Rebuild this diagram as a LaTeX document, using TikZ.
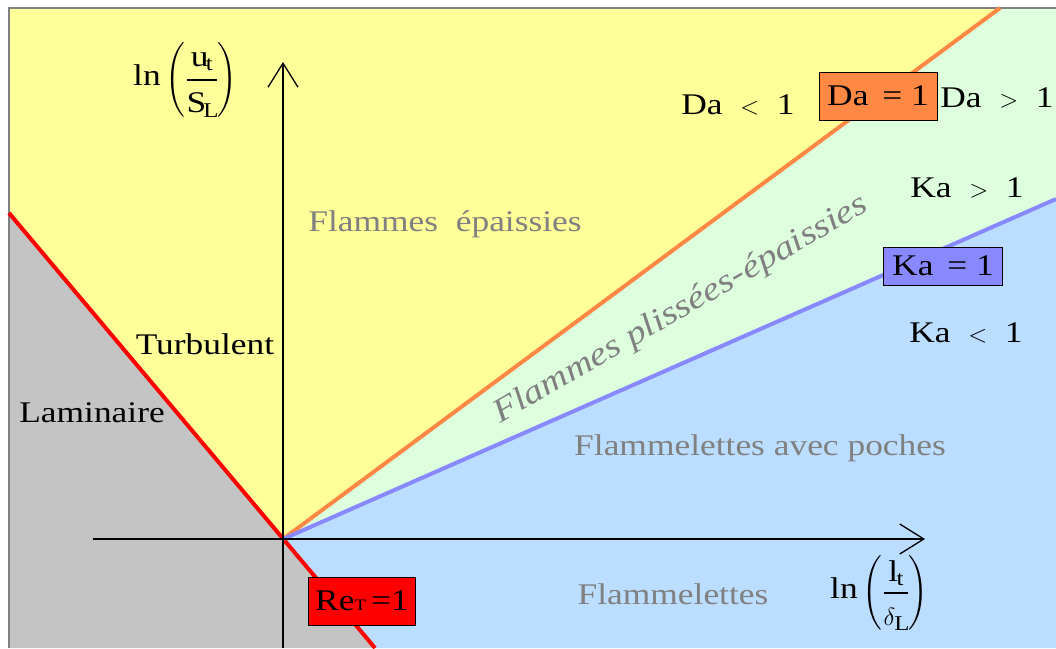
\documentclass[tikz,border=0pt]{standalone}
\usepackage{amsmath}
\usepackage{fontspec}
\setmainfont[FakeStretch=1.18]{Liberation Serif}
\usetikzlibrary{arrows.meta}

\definecolor{jaune}{RGB}{255,255,153}
\definecolor{gris}{RGB}{196,196,196}
\definecolor{vertpale}{RGB}{221,255,221}
\definecolor{bleupale}{RGB}{187,221,255}
\definecolor{daorange}{RGB}{255,136,68}
\definecolor{kableu}{RGB}{136,136,255}
\definecolor{texgris}{RGB}{128,128,128}

\begin{document}
\begin{tikzpicture}[x=1pt, y=-1pt,
    lbl/.style={font=\fontsize{30}{32}\selectfont, inner sep=0pt},
    zone/.style={lbl, text=texgris},
    boxlbl/.style={draw, line width=0.8pt, lbl, align=center},
    axis/.style={-{Straight Barb[length=24pt, width=30pt]}, line width=1.3pt},
    regime/.style={line width=4pt}
]
    \useasboundingbox (0,0) rectangle (1056,648);
    % points of the diagram
    \coordinate (O) at (283,539);
    \coordinate (retop) at (9,213);
    \coordinate (rebot) at (375,648);
    \coordinate (datop) at (1000,8);
    \coordinate (katop) at (1056,199);
    % zones
    \fill[gris] (retop) -- (O) -- (rebot) -- (9,648) -- cycle;
    \fill[jaune] (9,8) -- (datop) -- (O) -- (retop) -- cycle;
    \fill[vertpale] (datop) -- (1056,8) -- (katop) -- (O) -- cycle;
    \fill[bleupale] (O) -- (katop) -- (1056,648) -- (rebot) -- cycle;
    \draw[texgris, line width=2pt] (9,648) -- (9,8) -- (1056,8);
    % limits
    \draw[regime, red] (retop) -- (rebot);
    \draw[regime, daorange] (O) -- (datop);
    \draw[regime, kableu] (O) -- (katop);
    % axes
    \coordinate (ybot) at (283,648);
    \coordinate (ytip) at (283,62);
    \coordinate (xbeg) at (93,539);
    \coordinate (xtip) at (925,539);
    \draw[axis] (ybot) -- (ytip);
    \draw[axis] (xbeg) -- (xtip);
    \node[lbl, anchor=west] (ylab) at (133,80)
        {ln\,$\Bigg(\genfrac{}{}{2pt}{0}{\mathrm{u}_{\mathrm{t}}\rule[-6pt]{0pt}{6pt}}{\rule{0pt}{26pt}\mathrm{S}_{\mathrm{L}}}\Bigg)$};
    \node[lbl, anchor=west] (xlab) at (830,593)
        {ln\,$\Bigg(\genfrac{}{}{2pt}{0}{\mathrm{l}_{\mathrm{t}}\rule[-4pt]{0pt}{4pt}}{\rule{0pt}{26pt}\delta_{\mathrm{L}}}\Bigg)$};
    % boxed limits
    \node[boxlbl, fill=daorange, minimum width=118pt, minimum height=48pt] (da) at (878,96) {Da \,= 1};
    \node[boxlbl, fill=kableu, minimum width=119pt, minimum height=38pt] (ka) at (943,266) {Ka \,= 1};
    \node[boxlbl, fill=red, minimum width=107pt, minimum height=48pt] (re) at (362,601)
        {Re{\fontsize{16}{16}\selectfont T}\,=1};
    % labels
    \node[lbl] (dainf) at (738,105) {Da \ $<$ \ 1};
    \node[lbl] (dasup) at (997,98) {Da \ $>$ \ 1};
    \node[lbl] (kasup) at (967,188) {Ka \ $>$ \ 1};
    \node[lbl] (kainf) at (966,333) {Ka \ $<$ \ 1};
    \node[lbl] (turb) at (205,344) {Turbulent};
    \node[lbl] (lam) at (92,413) {Laminaire};
    \node[zone] (epais) at (445,224) {Flammes \ épaissies};
    \node[zone, rotate=30, font=\fontsize{33}{34}\selectfont\itshape] (plis) at (681,310) {Flammes plissées-épaissies};
    \node[zone] (poches) at (760,448) {Flammelettes avec poches};
    \node[zone] (flet) at (673,594) {Flammelettes};
\end{tikzpicture}
\end{document}
